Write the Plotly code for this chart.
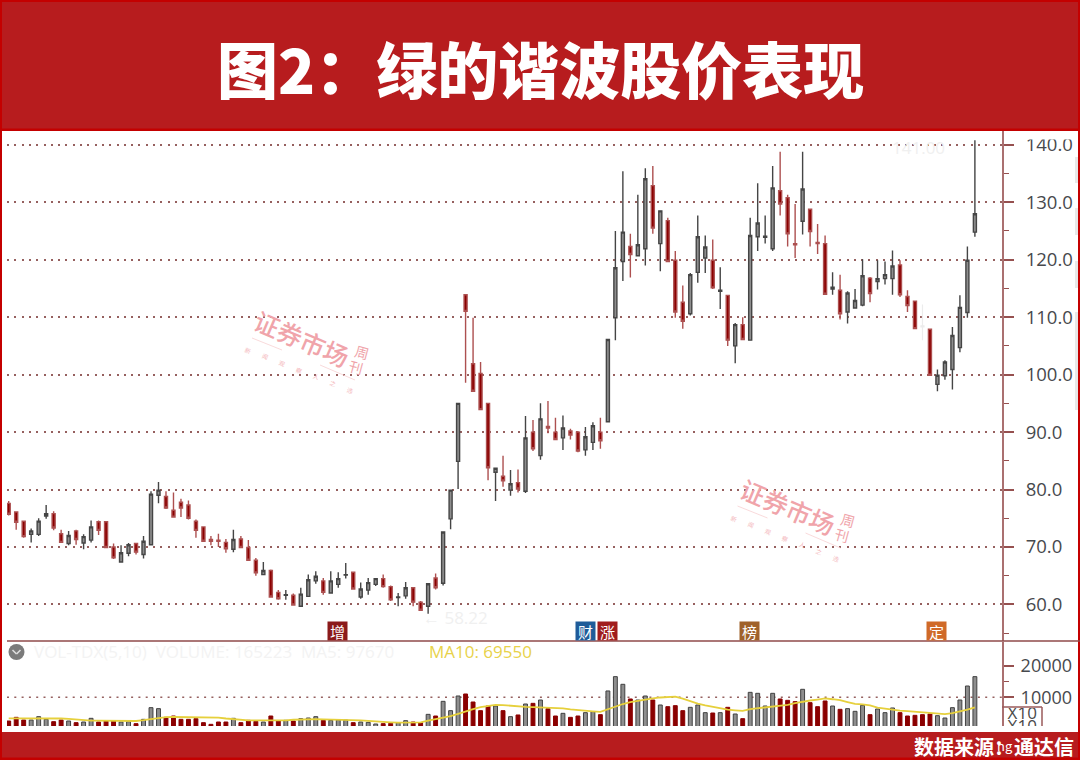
import plotly.graph_objects as go

directions = ("RRRGGGRRGRGGRRRGGRGGGRRRRRRRRRGRRRGRRGRGGGRGGGRGGGRRGGRRGRGGGRRRRGRGRGRGRRGRRGGRGGGRGGRGRRRGGGRGRGRGGGGRRRGRRRGRGGGRGGGRRRRRGGGGGG")
body_top = [77.6,76.1,74.5,72.8,74.5,75.8,75.8,72.3,72.0,72.8,71.8,73.5,74.4,74.4,70.0,69.0,70.4,70.6,71.0,79.2,
            79.9,78.8,76.4,77.8,77.3,74.5,73.5,71.3,71.2,70.8,71.3,71.4,69.9,67.7,65.9,65.9,62.1,61.7,61.6,61.8,
            64.3,64.9,64.1,64.1,64.5,65.2,65.6,62.7,63.8,64.5,64.5,63.1,61.3,62.9,62.9,60.4,63.6,64.6,72.6,79.9,
            95.0,113.9,101.9,100.2,95.0,83.7,82.3,81.0,81.2,89.0,90.0,92.3,91.0,90.0,90.7,90.2,90.0,89.2,91.1,90.0,
            106.1,118.6,124.8,122.3,122.6,134.1,132.9,128.5,126.8,119.9,112.6,117.4,124.0,122.2,119.9,114.7,113.8,108.7,108.7,124.2,
            126.4,124.1,132.5,132.0,130.8,122.8,132.3,128.8,123.0,122.8,115.2,114.7,114.2,112.9,117.2,116.8,116.7,117.4,118.9,119.1,
            113.6,112.8,108.5,107.9,99.9,102.2,106.8,111.7,119.9,128.0]
body_bot = [75.7,74.3,71.8,72.2,72.2,75.4,73.3,70.8,70.6,71.3,70.7,71.2,72.9,69.9,68.1,67.4,68.9,69.1,68.7,70.4,
            79.0,76.8,75.2,76.8,75.0,72.9,71.0,71.0,71.0,69.7,69.6,69.9,67.7,65.5,65.2,61.3,61.0,61.6,59.9,59.7,
            61.4,64.1,62.1,62.0,63.5,65.1,62.7,61.3,62.5,63.5,63.1,60.8,61.2,61.5,60.4,59.0,59.7,62.9,63.7,74.9,
            84.9,111.0,97.1,93.9,83.8,83.0,81.5,79.9,80.1,79.7,87.1,85.9,90.7,88.7,89.0,89.5,86.7,86.9,88.2,88.5,
            91.8,109.9,119.7,120.9,120.7,121.9,125.5,122.8,119.7,110.9,109.3,110.6,117.8,120.3,115.1,114.5,106.0,105.0,106.1,106.0,
            124.0,123.9,121.9,129.7,124.5,122.6,126.7,124.9,122.8,114.0,114.9,110.6,110.9,111.6,112.1,114.1,116.2,116.7,116.7,113.9,
            112.0,108.0,108.3,99.9,98.3,99.8,100.9,104.7,110.8,124.8]
highs = [78.0,76.1,74.6,73.2,75.0,77.3,76.2,73.0,72.8,73.0,72.2,74.6,74.6,74.4,70.6,70.3,70.7,70.7,71.9,79.7,
         81.3,79.7,79.5,78.4,78.1,74.8,73.6,71.9,72.3,71.4,73.0,71.9,71.2,68.1,67.4,66.1,62.5,62.5,61.9,62.9,
         65.2,65.8,64.6,65.8,65.6,67.2,65.7,63.8,64.6,64.6,65.2,63.3,62.0,63.9,62.9,60.6,63.6,65.4,72.6,80.0,
         95.1,113.9,109.9,102.2,95.0,83.8,85.9,83.4,83.5,92.8,92.1,95.0,95.4,92.5,92.9,90.6,90.2,90.9,91.7,92.5,
         106.1,125.0,135.4,124.5,131.3,135.9,136.3,128.5,127.3,121.5,115.5,117.7,127.7,124.2,123.5,118.7,113.8,109.0,110.0,127.3,
         133.3,127.7,136.3,138.8,131.3,129.7,138.8,128.8,126.2,124.2,117.8,117.4,114.5,114.9,120.1,117.0,119.9,119.7,121.6,119.9,
         114.7,112.8,112.2,108.0,100.9,102.5,108.3,113.8,122.3,140.8]
lows = [75.5,73.0,71.6,70.8,71.9,74.9,72.9,70.7,70.3,70.4,69.6,70.8,72.1,69.8,67.9,67.4,68.4,68.7,68.0,70.4,
        77.6,76.6,75.2,75.2,74.8,71.6,70.9,70.3,70.0,69.0,69.1,69.9,67.7,65.0,65.2,61.3,60.8,60.8,59.9,59.6,
        61.3,63.6,61.7,61.9,62.9,64.5,62.6,61.0,61.7,63.2,62.9,60.6,59.7,61.0,59.7,59.0,58.4,62.6,63.3,73.1,
        80.1,98.6,97.1,93.9,81.6,78.0,80.5,78.9,79.5,79.4,86.7,85.2,89.8,88.6,86.9,88.7,86.5,85.9,86.9,87.1,
        91.8,106.0,116.3,116.9,120.6,119.0,124.5,118.0,119.6,109.9,108.0,110.3,116.0,117.7,114.9,111.4,105.0,102.0,106.0,106.0,
        121.5,122.8,121.5,127.7,122.3,120.3,124.4,122.3,121.0,114.0,113.9,109.6,108.9,111.5,111.9,112.6,114.8,115.7,113.9,113.5,
        110.9,107.9,106.0,99.8,97.1,99.1,97.4,103.9,109.9,124.0]
faded_candles = [122]

volumes = [2560,3710,2870,2870,3920,3080,2350,2870,2560,2035,2240,3400,2240,2660,2560,2240,2350,1720,3080,6750,
           6440,3710,4130,3080,3080,3290,2035,1510,2240,2240,3400,2035,2770,2450,2240,4130,2660,2770,2560,3290,
           3500,3920,2770,2770,2870,2870,2035,2240,2140,1615,1720,1825,2035,2660,2240,2035,4650,4130,8740,5810,
           10420,11050,8530,5810,7270,7270,5810,3920,4450,7900,8110,9160,6440,4130,4970,3710,4130,5180,5500,4550,
           12000,16500,14090,9480,9160,10420,9160,7590,7060,7380,5810,6860,7590,5180,5070,5180,6860,4760,3290,11570,
           11260,7270,11260,9480,9060,8640,12520,8320,7060,8850,7270,6230,6440,5600,7480,4550,6330,5180,6650,5180,
           4130,4340,4550,4760,4230,3500,6750,9160,13560,16500]
ma10 = [3400,3420,3400,3380,3400,3400,3380,3350,3200,2950,2750,2680,2650,2650,2620,2600,2580,2560,2800,3150,
        3600,3780,3820,3820,3830,3830,3820,3800,3650,3350,3100,2850,2780,2750,2720,2700,2680,2780,2950,3050,
        3120,3150,3100,3050,3080,3040,2900,2750,2600,2400,2300,2150,2050,2100,2200,2150,2660,3100,3550,4100,
        4800,5600,6300,6900,7350,7600,7550,7300,7100,7000,6900,6850,6800,6700,6500,6200,5950,5750,5600,5450,
        6300,7100,7900,8500,8950,9400,9700,9950,10050,10210,9600,8800,8050,7500,7000,6450,6100,5900,5750,6300,
        6550,6800,7100,7350,7650,8150,8650,9000,9300,9650,9400,9100,8500,7950,7800,7500,6750,6400,6100,5850,
        5650,5450,5250,5050,4800,4750,5000,5500,6100,6860]

price_ticks = [60, 70, 80, 90, 100, 110, 120, 130, 140]
price_minor = [55, 65, 75, 85, 95, 105, 115, 125, 135]
volume_ticks = [10000, 20000]
volume_minor = [15000]
title_text = "图2：绿的谐波股价表现"
source_text = "数据来源：通达信"
badges = [("增", 337, "#8b1a1a"), ("财", 585, "#1f5c99"), ("涨", 607, "#a01c1c"),
          ("榜", 749, "#a0622a"), ("定", 936, "#d06a28")]
watermark_small = "新闻观察人之选"

W, H = 1080, 760
RED = "#b71c1e"
BRIGHT = "#c40000"
GRID = "#96605f"
AXIS = "#aa7070"
TXT = "#47494d"
CJK = "Noto Sans CJK SC"


def px(x):
    return x / W


def py(y):
    return 1 - y / H


n = len(highs)
idx = list(range(n))
opens = [b if d == "G" else t for d, t, b in zip(directions, body_top, body_bot)]
closes = [t if d == "G" else b for d, t, b in zip(directions, body_top, body_bot)]


def keep(vals, faded):
    return [v if ((i in faded_candles) == faded) else None for i, v in enumerate(vals)]


fig = go.Figure()
fig.add_trace(go.Candlestick(
    x=idx, open=keep(opens, False), high=keep(highs, False), low=keep(lows, False), close=keep(closes, False),
    increasing=dict(line=dict(color="#454545", width=1.4), fillcolor="#8e8e8e"),
    decreasing=dict(line=dict(color="#ad5050", width=1.4), fillcolor="#8b0000"),
    whiskerwidth=0, showlegend=False, xaxis="x", yaxis="y", name="K"))
fig.add_trace(go.Candlestick(
    x=idx, open=keep(opens, True), high=keep(highs, True), low=keep(lows, True), close=keep(closes, True),
    increasing=dict(line=dict(color="#ececec", width=1.2), fillcolor="#ececec"),
    decreasing=dict(line=dict(color="#ececec", width=1.2), fillcolor="#ececec"),
    whiskerwidth=0, showlegend=False, xaxis="x", yaxis="y", name="faded"))
fig.add_trace(go.Bar(
    x=idx, y=volumes, width=0.52,
    marker=dict(color=["#8e8e8e" if d == "G" else "#8b0000" for d in directions],
                line=dict(color=["#404040" if d == "G" else "#8b0000" for d in directions], width=1)),
    showlegend=False, xaxis="x2", yaxis="y2", name="VOL"))
fig.add_trace(go.Scatter(
    x=idx, y=ma10, mode="lines", line=dict(color="#e6d03c", width=1.8),
    showlegend=False, xaxis="x2", yaxis="y2", name="MA10"))
# the clipped unit boxes under the volume axis
fig.add_trace(go.Scatter(
    x=[0.5, 0.5], y=[0.62, -0.1], mode="text", text=["X10", "X10"],
    textfont=dict(family="Open Sans", size=17, color="#4a4a4a"), cliponaxis=True,
    showlegend=False, xaxis="x3", yaxis="y3", hoverinfo="skip"))

shapes = []


def rect(x0, y0, x1, y1, fill, line=None, lw=0):
    shapes.append(dict(type="rect", xref="paper", yref="paper", x0=px(x0), x1=px(x1), y0=py(y0), y1=py(y1),
                       fillcolor=fill, line=dict(color=line or fill, width=lw), layer="above"))


def seg(x0, y0, x1, y1, color, lw=1):
    shapes.append(dict(type="line", xref="paper", yref="paper", x0=px(x0), x1=px(x1), y0=py(y0), y1=py(y1),
                       line=dict(color=color, width=lw), layer="above"))


rect(1015, 131, 1075, 139.5, "#ffffff")
for top, bottom in [(157, 183), (208, 235), (261, 288), (312, 410)]:
    rect(1075, top, 1078, bottom, "#e8e8e8")
rect(0, 0, W, 131, RED)
rect(0, 732, W, 760, RED)
rect(0, 0, W, 2, BRIGHT)
rect(0, 128.5, W, 131, BRIGHT)
rect(0, 757.5, W, 760, BRIGHT)
rect(0, 0, 2, H, BRIGHT)
rect(1078, 0, W, H, BRIGHT)
seg(7, 641, W, 641, "#8f4a4a", 1.6)
seg(1002, 707, 1042, 707, "#9a5a5a", 1.5)
seg(1042, 707, 1042, 726, "#9a5a5a", 1.5)
shapes.append(dict(type="line", xref="x2", yref="y2", x0=-0.227, x1=132.62, y0=10000, y1=10000,
                   line=dict(color=GRID, width=1.5, dash="2px,5.3px"), layer="below"))
# collapse arrow beside the volume caption
shapes.append(dict(type="circle", xref="paper", yref="paper", x0=px(8.5), x1=px(24.5), y0=py(660), y1=py(644),
                   fillcolor="#7b7b7b", line=dict(width=0), layer="above"))
seg(12.5, 650, 16.5, 654, "#dddddd", 1.6)
seg(16.5, 654, 20.5, 650, "#dddddd", 1.6)

annotations = []


def note(x, y, text, size, color, family=CJK, xanchor="center", angle=0, weight=None, **extra):
    font = dict(family=family, size=size, color=color)
    if weight:
        font["weight"] = weight
    annotations.append(dict(xref="paper", yref="paper", x=px(x), y=py(y), text=text, showarrow=False,
                            font=font, xanchor=xanchor, yanchor="middle", textangle=angle, **extra))


note(540, 67, title_text, 61, "#ffffff", weight=900)
note(1076, 746, source_text, 20, "#ffffff", xanchor="right", weight=700)
note(1005, 745, "ng", 13, "#ffffff")
note(427, 651, "MA10: 69550", 17, "#e8d24a", family="Open Sans", xanchor="left")
note(32, 651, "VOL-TDX(5,10)  VOLUME: 165223  MA5: 97670", 17, "#f3f3f3", family="Open Sans", xanchor="left")
note(918, 147, "141.00", 17, "#f0f0f0", family="Open Sans")
note(455, 617, "← 58.22", 17, "#f0f0f0", family="Open Sans")
for label, bx, colour in badges:
    note(bx, 631, label, 15, "#ffffff", bgcolor=colour, width=19, height=18, borderpad=0, align="center")

PINK = "#f0a4aa"
for dx, dy in [(0, 0), (485.5, 168)]:
    note(302 + dx, 338 + dy, "证券市场", 25, PINK, angle=23, weight=500)
    note(362 + dx, 352 + dy, "周", 14, PINK, angle=15)
    note(356 + dx, 367 + dy, "刊", 14, PINK, angle=15)
    for k, ch in enumerate(watermark_small):
        note(248 + 17 * k + dx, 350 + 6.7 * k + dy, ch, 6, "#f4b8bc", angle=21)
    seg(252 + dx, 338 + dy, 282 + dx, 350 + dy, "#f8d0d2", 0.8)
    seg(320 + dx, 365 + dy, 355 + dx, 380 + dy, "#f8d0d2", 0.8)

fig.update_layout(
    width=W, height=H, margin=dict(l=0, r=0, t=0, b=0), autosize=False,
    paper_bgcolor="#ffffff", plot_bgcolor="#ffffff", showlegend=False, boxgap=0.42,
    barmode="overlay", hovermode=False, shapes=shapes, annotations=annotations,
    xaxis=dict(domain=[px(7), px(1002)], range=[-0.227, 132.62], visible=False, rangeslider=dict(visible=False),
               anchor="y"),
    xaxis2=dict(domain=[px(7), px(1002)], range=[-0.227, 132.62], visible=False, anchor="y2"),
    xaxis3=dict(domain=[px(1003), px(1041.5)], range=[0, 1], visible=False, anchor="y3"),
    yaxis=dict(domain=[py(641), py(131)], range=[53.64, 142.4], side="right", anchor="x",
               tickvals=price_ticks, ticktext=[f"{v:.1f}" for v in price_ticks],
               tickfont=dict(family="Open Sans", size=18.5, color=TXT), ticks="outside", ticklen=10, tickwidth=1.6,
               tickcolor="#96504f", showline=True, linecolor=AXIS, linewidth=2,
               showgrid=True, gridcolor=GRID, gridwidth=1.5, griddash="2px,5.3px", zeroline=False,
               ticklabelstandoff=8,
               minor=dict(tickvals=price_minor, ticks="outside", ticklen=5, tickwidth=1.4, tickcolor="#96504f",
                          showgrid=False)),
    yaxis2=dict(domain=[py(726), py(642)], range=[987, 27390], side="right", anchor="x2",
                tickvals=volume_ticks, ticktext=[str(v) for v in volume_ticks],
                tickfont=dict(family="Open Sans", size=18, color=TXT), ticks="outside", ticklen=10, tickwidth=1.6,
                tickcolor="#96504f", showline=True, linecolor=AXIS, linewidth=2, showgrid=False, zeroline=False,
                ticklabelstandoff=3,
                minor=dict(tickvals=volume_minor, ticks="outside", ticklen=5, tickwidth=1.4, tickcolor="#96504f",
                           showgrid=False)),
    yaxis3=dict(domain=[py(726), py(708)], range=[0, 1], visible=False, anchor="x3"),
)

fig.write_html("out.html", config=dict(displayModeBar=False),
               post_script="document.body.style.margin='0';document.body.style.overflow='hidden';")
